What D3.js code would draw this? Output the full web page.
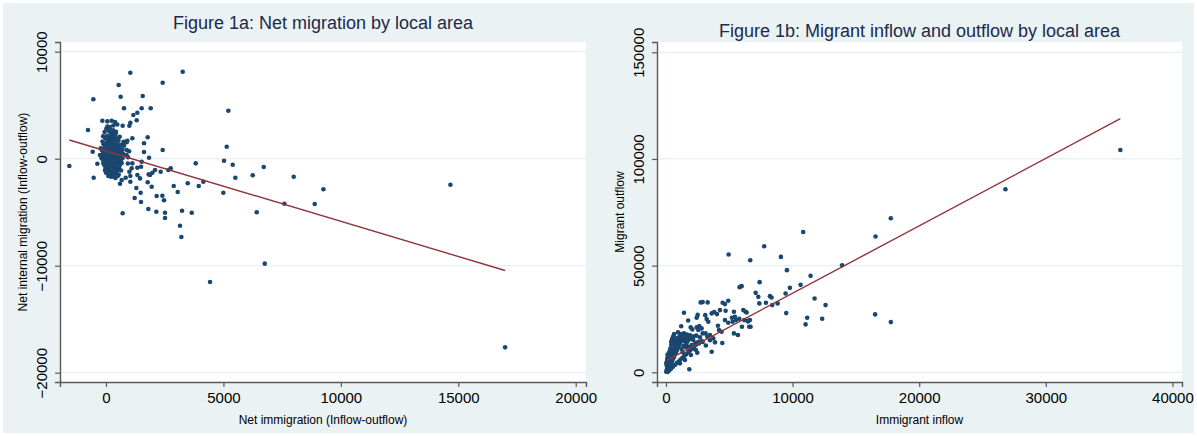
<!DOCTYPE html>
<html>
<head>
<meta charset="utf-8">
<script src="https://cdn.jsdelivr.net/npm/d3@7"></script>
<style>
	body { margin: 0; background: #fff; }
	text { font-family: "Liberation Sans", Arial, sans-serif; }
</style>
</head>
<body>
<script>
//  Figure 1a: net immigration (x) vs net internal migration (y)
var netMigOutliers = [
	[1036,8040],[3266,8131],[540,6888],[2413,7103],[-540,5550],[624,5795],[1562,5860],[767,4710],
	[1519,4710],[1903,4710],[5210,4486],[1334,4300],[1164,4084],[1306,3587],[1036,3365],[994,3084],
	[-156,3552],[57,3490],[241,3552],[383,3427],[-767,2682],[710,3084],[57,3000],[170,2740],[426,2520],
	[582,2056],[767,1589],[909,1682],[1121,1906],[1775,1999],[1618,1439],[2413,813],[5140,1121],
	[-568,654],[-1562,-682],[-369,-467],[-526,-1776],[1618,626],[1831,93],[710,-5103],[5026,-187],
	[5395,-561],[5508,-1776],[3820,-436],[6247,-1551],[6716,-776],[7993,-1682],[9256,-2860],
	[7594,-4206],[8888,-4234],[6418,-5010],[4996,-3178],[4144,-2150],[3948,-2551],[3479,-2299],
	[3054,-3112],[2883,-2551],[3650,-5047],[3237,-4860],[3152,-6262],[3209,-7318],[2513,-5047],
	[2513,-5542],[2470,-3888],[2399,-3458],[2143,-4953],[2157,-3486],[1803,-4701],[1491,-4047],
	[1476,-3178],[1292,-2738],[1221,-3673],[1945,-2617],[1775,-2206],[2754,-900],[2655,-1056],
	[2328,-1215],[2087,-1056],[1974,-1308],[1874,-1523],[1817,-1462],[1491,-748],[1519,-280],
	[1334,-841],[1334,-1523],[1448,-1839],[1036,-1617],[1036,-2150],[838,-1776],[668,-1991],
	[596,-2337],[937,131],[1121,-436],[1093,-900],[994,-1215],[880,813],[767,1215],[880,1542],
	[497,-1617],[212,-1682],[100,-1617],[0,-1308],[-43,-1056],[-114,-436],[-256,342],[-185,31],
	[-227,966],[4430,-11520],[6760,-9810],[16993,-17630],[14665,-2430]
];

var netMigCluster = [
	[12,2800],[150,2950],[310,3100],[480,3200],[-60,2500],[130,2600],[260,2450],[-120,2100],
	[70,2150],[240,2250],[410,2300],[-20,1900],[160,1950],[330,2050],[-150,1600],[20,1500],
	[110,1700],[190,1550],[270,1800],[360,1650],[450,1900],[530,1700],[-100,1350],[-30,1150],
	[60,1300],[140,1100],[210,1400],[290,1250],[370,1450],[440,1200],[510,1350],[580,1100],
	[660,1300],[-170,800],[-90,950],[10,750],[80,900],[150,700],[220,950],[300,800],[380,1000],
	[460,750],[540,900],[610,650],[700,850],[-130,450],[-50,550],[30,350],[100,500],[180,300],
	[250,550],[330,400],[410,600],[490,350],[560,500],[640,300],[720,450],[-180,100],[-70,200],
	[0,50],[90,150],[160,-50],[240,100],[310,-100],[390,200],[470,0],[540,150],[620,-150],[700,50],
	[-110,-200],[-30,-300],[50,-150],[120,-350],[200,-200],[280,-450],[360,-300],[440,-500],
	[510,-250],[590,-600],[670,-400],[-60,-650],[20,-800],[100,-600],[170,-850],[250,-700],
	[330,-950],[400,-750],[480,-1000],[560,-850],[640,-1100],[-20,-1100],[60,-1250],[140,-1050],
	[220,-1300],[300,-1150],[380,-1400],[460,-1200],[540,-1500],[130,-1550],[280,-1650],[400,-1800],
	[35,420],[195,620],[275,220],[355,720],[425,-120],[505,520],[145,1220],[325,1550],[225,-560],
	[85,-420],[-45,1020],[395,1350],[575,-180],[655,680],[15,2050],[185,2500],[305,2650],
	[745,1550],[870,350],[930,-450],[980,700]
];

var netMigFit = [[-1563,1750],[16993,-10450]];

//  Figure 1b: immigrant inflow (x) vs migrant outflow (y)
var flowOutliers = [
	[7759,59108],[4949,55224],[6654,52556],[9077,54101],[9550,47876],[13916,50216],[11421,45209],
	[10632,41000],[9787,39593],[7396,42260],[5975,40388],[5817,39920],[7080,37253],[7291,35381],
	[7370,32292],[7893,32573],[8209,35708],[8340,35084],[8816,32292],[8393,31496],[9448,36972],
	[9498,27752],[11026,22464],[11153,25553],[11737,34632],[12605,31496],[12337,25085],[4917,33509],
	[4657,31964],[4475,32573],[4262,29156],[4708,28844],[3812,28220],[4025,27284],[3291,32760],
	[2897,32916],[2739,32760],[3607,27612],[3212,24944],[3343,23696],[2423,25553],[1421,27893],
	[5367,28361],[5209,25553],[5525,24476],[5788,25085],[6183,24476],[6446,24164],[5446,26021],
	[5261,23696],[5999,21341],[6578,21341],[5367,18252],[5683,17472],[6630,24476],[6288,28361],
	[4446,13712],[3607,9641],[3736,15912],[3870,14040],[3475,15000],[4183,19796],[4394,19016],
	[4104,21800],[4657,24476],[4917,23228],[1500,5756],[1842,1404],[1105,4196],[1950,21060],
	[2079,20124],[2423,21060],[2552,19812],[2816,20592],[2631,21684],[2895,18252],[3133,18252],
	[3264,16692],[3475,17472],[2842,14664],[2552,14352],[2316,13572],[2158,15132],[2026,12792],
	[2158,11232],[2367,10452],[2473,9204],[1895,10452],[1763,12012],[1973,8096],[1395,14664],
	[35889,104177],[26812,85784],[17759,72212],[16551,63648],[10837,65801],[16520,27144],
	[17759,23540],[6104,29156],[6367,28064],[6472,23852],[6683,21349]
];

var flowCluster = [
	[20,300],[60,1200],[110,600],[150,2100],[90,2800],[200,1500],[240,3300],[180,4100],[300,2500],
	[330,4600],[270,5400],[380,3700],[420,5900],[360,6800],[460,4800],[500,7200],[440,8100],[540,6000],
	[580,8600],[520,9400],[620,7100],[660,9900],[600,10800],[700,8200],[740,11300],[680,12100],
	[780,9300],[820,12600],[760,13500],[860,10400],[900,13900],[840,14800],[940,11500],[980,15200],
	[920,16100],[1020,12600],[1060,16600],[1100,13700],[1140,17900],[1180,14900],[1260,16000],
	[1340,17100],[1380,12400],[1420,18300],[1460,15300],[1540,16500],[1620,13600],[1660,17700],
	[1740,14800],[1820,16100],[1900,17400],[2000,15600],[2200,16900],[2400,17200],[2680,16400],
	[130,200],[250,900],[400,1700],[550,2600],[700,3400],[850,4300],[1000,5100],[1150,6000],
	[1300,6800],[1450,7700],[1600,8500],[1750,9400],[1900,10200],[2050,11100],[2200,11900],
	[2350,12800],[2600,13500],[2900,14200],[3150,12600],[40,3600],[70,5000],[100,6300],[30,4400],
	[160,7500],[210,8800],[120,8200],[280,9800],[350,11200],[420,12900],[300,7900],[410,14300],
	[480,15600],[560,16700],[640,17900],[760,15800],[450,10200],[600,13300],[680,14600],[950,18800],
	[1200,21600],[1750,24300],[2500,26900],[3100,26800],[1230,10900],[1570,11800],[1310,9400]
];

var flowFit = [[60,5620],[35889,118890]];

//  Axis ticks
var fig1aXTicks = [0, 5000, 10000, 15000, 20000];
var fig1aYTicks = [-20000, -10000, 0, 10000];
var fig1bXTicks = [0, 10000, 20000, 30000, 40000];
var fig1bYTicks = [0, 50000, 100000, 150000];

var width = 1197, height = 436;

var svg = d3.select("body").append("svg").attr("width", width)
	.attr("height", height);

svg.append("rect").attr("x", 3).attr("y", 3).attr("width", width - 6)
	.attr("height", height - 6).attr("fill", "#eaf2f3");

function drawPanel(p) {
	var x = d3.scaleLinear().domain(p.xDomain).range([p.left, p.right]);
	var y = d3.scaleLinear().domain(p.yDomain).range([p.bottom, p.top]);

	svg.append("rect").attr("x", p.left).attr("y", p.top)
		.attr("width", p.right - p.left).attr("height", p.bottom - p.top)
		.attr("fill", "#fff");

	svg.append("g").selectAll("line").data(p.yTicks).enter().append("line")
		.attr("x1", p.left).attr("x2", p.right)
		.attr("y1", function(d) { return y(d); }).attr("y2", function(d) { return y(d); })
		.attr("stroke", "#e6eff1").attr("stroke-width", 1.2);

	var g = svg.append("g");
	g.selectAll("circle").data(p.points).enter().append("circle")
		.attr("cx", function(d) { return x(d[0]); })
		.attr("cy", function(d) { return y(d[1]); })
		.attr("r", 2.3).attr("fill", "#1a476f");

	var line = d3.line().x(function(d) { return x(d[0]); }).y(function(d) { return y(d[1]); });
	svg.append("path").datum(p.fit).attr("d", line).attr("fill", "none")
		.attr("stroke", "#90353b").attr("stroke-width", 1.4);

	var xAxis = svg.append("g").attr("transform", "translate(0," + p.bottom + ")")
		.call(d3.axisBottom(x).tickValues(p.xTicks).tickFormat(d3.format("d"))
			.tickSizeOuter(0).tickSize(5).tickPadding(7));
	var yAxis = svg.append("g").attr("transform", "translate(" + p.left + ",0)")
		.call(d3.axisLeft(y).tickValues(p.yTicks).tickFormat(d3.format("d"))
			.tickSizeOuter(0).tickSize(5));

	[xAxis, yAxis].forEach(function(a) {
		a.select(".domain").attr("stroke", "#5a5a5a").attr("stroke-width", 1.4);
		a.selectAll(".tick line").attr("stroke", "#5a5a5a").attr("stroke-width", 1.2);
		a.selectAll(".tick text").attr("fill", "#000").style("font-size", "15px")
			.style("font-family", "'Liberation Sans', Arial, sans-serif");
	});
	xAxis.selectAll(".tick text").attr("y", 20.5).attr("dy", 0);
	yAxis.selectAll(".tick text").attr("transform", "rotate(-90)")
		.attr("x", 0).attr("y", -13.5).attr("dy", 0).attr("text-anchor", "middle");

	var cx = (p.left + p.right) / 2, cy = (p.top + p.bottom) / 2;
	svg.append("text").attr("x", cx).attr("y", p.titleY).attr("text-anchor", "middle")
		.style("font-size", "18px").attr("fill", "#1c2a4c").text(p.title);
	svg.append("text").attr("x", cx).attr("y", 424).attr("text-anchor", "middle")
		.style("font-size", "12px").attr("fill", "#000").text(p.xTitle);
	svg.append("text").attr("transform", "translate(" + (p.left - 33) + "," + cy + ")rotate(-90)")
		.attr("text-anchor", "middle").style("font-size", "12px").attr("fill", "#000")
		.text(p.yTitle);
}

drawPanel({
	left: 60, right: 586, top: 42, bottom: 382,
	xDomain: [-1959, 20438], yDomain: [-20869, 10907],
	xTicks: fig1aXTicks, yTicks: fig1aYTicks,
	points: netMigCluster.concat(netMigOutliers), fit: netMigFit,
	title: "Figure 1a: Net migration by local area", titleY: 29,
	xTitle: "Net immigration (Inflow-outflow)",
	yTitle: "Net internal migration (Inflow-outflow)"
});

drawPanel({
	left: 657, right: 1182, top: 42, bottom: 382,
	xDomain: [-710, 40758], yDomain: [-4538, 154819],
	xTicks: fig1bXTicks, yTicks: fig1bYTicks,
	points: flowCluster.concat(flowOutliers), fit: flowFit,
	title: "Figure 1b: Migrant inflow and outflow by local area", titleY: 37,
	xTitle: "Immigrant inflow",
	yTitle: "Migrant outflow"
});
</script>
</body>
</html>
